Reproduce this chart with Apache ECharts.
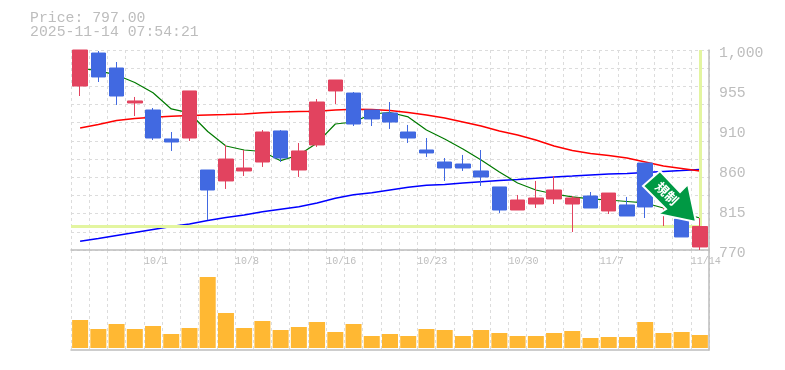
<!DOCTYPE html>
<html><head><meta charset="utf-8">
<style>html,body{margin:0;padding:0;background:#fff}#c{width:785px;height:370px}</style>
<script src="https://cdn.jsdelivr.net/npm/echarts@6/dist/echarts.min.js"></script>
</head><body><div id="c"></div>
<script>
const categories = ['9/25','9/26','9/29','9/30','10/1','10/2','10/3','10/6','10/7','10/8','10/9','10/10','10/14','10/15','10/16','10/17','10/20','10/21','10/22','10/23','10/24','10/27','10/28','10/29','10/30','10/31','11/4','11/5','11/6','11/7','11/10','11/11','11/12','11/13','11/14'];
const shownDates = ['10/1','10/8','10/16','10/23','10/30','11/7','11/14'];
const priceLabels = ['770','815','860','910','955','1,000'];
// [open, close, low, high]
const candles = [
 [958.6,1000,947.1,1000],[996.5,969,963.2,998.8],[979.3,947.1,936.8,986.2],[939.1,941.4,924.1,946],
 [931,898.8,896.5,933.3],[897.7,894.2,883.9,905.7],[898.8,952.9,895.4,952.9],[862,839,804.5,862],
 [849.4,874.6,840.2,890.8],[860.9,864.3,855.1,885],[871.2,905.7,865.5,908],[906.9,875.8,871.2,908],
 [862,883.9,854,893],[890.8,940.2,888.5,943.6],[952.9,965.5,937.9,965.5],[950.5,914.9,912.6,951.7],
 [931,920.7,912.6,931],[927.6,917.2,909.2,940.2],[905.7,898.8,893.1,913.8],[885,881.6,877,898.8],
 [871.2,864.3,849.4,875.8],[868.9,864.3,860.9,879.3],[860.9,854,843.6,885],[842.5,816,812.6,842.5],
 [816,827.5,816,833.3],[822.9,829.8,818.3,849.4],[828.7,839,822.9,855.1],[822.9,829.8,790.7,832.1],
 [832.1,818.3,818.3,836.7],[814.9,835.5,811.4,835.5],[821.8,809.1,809.1,831],[870,819.5,806.8,870],
 [831,843.6,797.6,843.6],[805.6,785,785,805.6],[773.5,797,770,806.8]
];
const maShort = [979.3,975.9,971.3,962.6,950.9,932.2,927.6,906.3,889.6,885,883.3,872.7,879.3,893.1,914.9,917.2,926.4,928.1,923,908,897.7,886.2,873.5,859.7,847.1,839,834.4,831,828.7,827.5,825.8,824.1,818.3,812.6,806.8];
const maMid = [910.3,914.3,918.9,921.2,922.7,923.9,924.7,925.3,925.7,926.4,927.8,928.7,929.3,929.5,931,931.8,931.6,930.4,928.1,925.3,921.8,917.2,912.6,906.9,902.3,896.5,889.6,884.4,881,878.7,875.8,871.2,866.6,863.8,860.9];
const maLong = [780,783.2,786.7,790.1,793.6,797,799.9,803.9,807.4,810.3,814,816.9,819.8,824.1,829.5,833.6,835.9,839,842.1,844.4,845.3,847,848.5,849.9,851.1,852.5,854,855.1,856.3,857.4,858,859.1,860.3,861.4,862.6];
const volumes = [28,19,24,19,22,14,20,71,35,20,27,18,21,26,16,24,12,14,12,19,18,12,18,15,12,12,15,17,10,11,11,26,15,16,13];
const lastPrice = 797;
const lastIndex = 34;

const GREY='#bdbdbd', GRID='#dcdcdc', RED='#e2435f', BLUE='#4169e1', LIME='#e3f5a0', MONO='"Liberation Mono",monospace';
const split={show:true,lineStyle:{color:GRID,type:[3,3],width:1}};
const off={show:false};
const chart=echarts.init(document.getElementById('c'),null,{renderer:'canvas'});
chart.setOption({
 animation:false,backgroundColor:'#fff',
 grid:[{left:71,top:50,width:638,height:200},{left:71,top:250,width:638,height:100}],
 xAxis:[
  {type:'category',gridIndex:0,data:categories,show:false,boundaryGap:true},
  {type:'category',gridIndex:1,data:categories,show:false,boundaryGap:true},
  {type:'value',gridIndex:0,min:0,max:35,interval:1,position:'bottom',splitLine:split,axisTick:off,
   axisLine:{show:true,onZero:false,lineStyle:{color:GREY,width:1.5}},
   axisLabel:{show:true,showMinLabel:true,showMaxLabel:true,hideOverlap:false,color:GREY,fontFamily:MONO,fontSize:10,align:'left',margin:6,
     formatter:v=>shownDates.includes(categories[v])?categories[v]:''}},
  {type:'value',gridIndex:1,min:0,max:35,interval:1,position:'bottom',splitLine:split,axisTick:off,axisLabel:off,
   axisLine:{show:true,onZero:false,lineStyle:{color:GREY,width:1.5}}}
 ],
 yAxis:[
  {type:'value',gridIndex:0,min:770,max:1000,show:false},
  {type:'value',gridIndex:0,min:0,max:11,interval:1,position:'left',splitLine:split,axisLine:off,axisTick:off,axisLabel:off},
  {type:'value',gridIndex:0,min:0,max:5,interval:1,position:'right',splitLine:off,axisTick:off,
   axisLine:{show:true,lineStyle:{color:GREY,width:1.5}},
   axisLabel:{show:true,showMinLabel:true,showMaxLabel:true,color:GREY,fontFamily:MONO,fontSize:14.8,align:'left',margin:10,verticalAlign:'top',lineHeight:7,
     formatter:v=>priceLabels[v]}},
  {type:'value',gridIndex:1,min:-2,max:98,show:true,position:'right',splitLine:off,axisTick:off,axisLabel:off,
   axisLine:{show:true,onZero:false,lineStyle:{color:GREY,width:1.5}}}
 ],
 series:[
  {type:'line',xAxisIndex:2,yAxisIndex:0,data:[],z:2,silent:true,
   markLine:{silent:true,symbol:'none',label:{show:false},animation:false,
    lineStyle:{color:LIME,width:3,type:'solid'},
    data:[[{coord:[0,lastPrice]},{coord:[lastIndex+0.5,lastPrice]}],
          [{coord:[lastIndex+0.5,lastPrice]},{coord:[lastIndex+0.5,1000]}]]}},
  {type:'line',xAxisIndex:0,yAxisIndex:0,data:maLong,symbol:'none',z:3,lineStyle:{color:'#0000ff',width:1.5}},
  {type:'line',xAxisIndex:0,yAxisIndex:0,data:maMid,symbol:'none',z:3,lineStyle:{color:'#ff0000',width:1.5}},
  {type:'line',xAxisIndex:0,yAxisIndex:0,data:maShort,symbol:'none',z:3,lineStyle:{color:'#007a00',width:1.2}},
  {type:'candlestick',xAxisIndex:0,yAxisIndex:0,data:candles,barWidth:15,z:5,clip:true,
   itemStyle:{color:RED,color0:BLUE,borderColor:RED,borderColor0:BLUE,borderWidth:1}},
  {type:'bar',xAxisIndex:1,yAxisIndex:3,data:volumes,barWidth:16,itemStyle:{color:'#ffb833'},z:5}
 ],
 graphic:[
  {type:'text',left:30,top:11,z:20,style:{text:'Price: 797.00',font:'14.8px '+MONO,fill:GREY}},
  {type:'text',left:30,top:25,z:20,style:{text:'2025-11-14 07:54:21',font:'14.8px '+MONO,fill:GREY}},
  {type:'polygon',z:30,shape:{points:[[660,171],[643,186],[666,209],[658,214],[696,222],[688,184],[680,192]]},
   style:{fill:'#009944',stroke:'#fff',lineWidth:2,lineJoin:'miter'}},
  {type:'text',z:31,x:667,y:193.5,rotation:-Math.PI/4,
   style:{text:'規制',font:'bold 13px "Noto Sans CJK JP"',fill:'#fff',align:'center',verticalAlign:'middle',letterSpacing:2}}
 ]
});
</script></body></html>
